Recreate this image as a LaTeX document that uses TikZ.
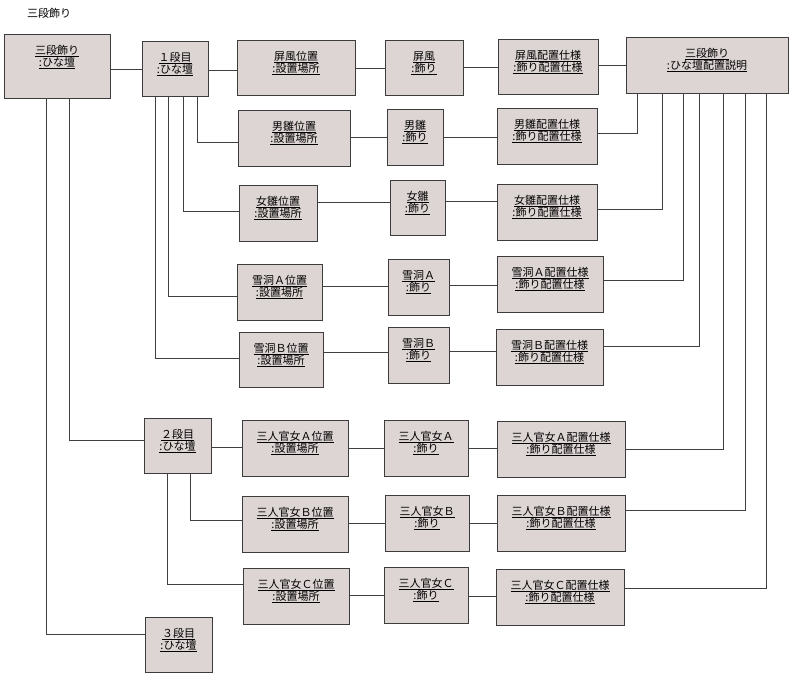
\documentclass[tikz,border=0pt]{standalone}
\usepackage{fontspec}
\setmainfont{Noto Sans CJK JP}
\usetikzlibrary{fit}
\definecolor{boxfill}{HTML}{DDD5D3}
\definecolor{boxline}{HTML}{3C3C3C}
\definecolor{connline}{HTML}{404040}
\tikzset{
  box/.style={draw=boxline, fill=boxfill, line width=0.9pt, inner sep=0pt, outer sep=0pt},
  lbl/.style={anchor=base, inner sep=0pt, font=\fontsize{11}{12}\selectfont, text=black},
  conn/.style={draw=connline, line width=0.8pt},
}
\newcommand\objbox[7]{%
  \node[box, fit={(#2,#3) (#4,#5)}] (#1) {};
  \node[lbl] (#1-a) at ([yshift=-20pt]#1.north) {\underline{#6}};
  \node[lbl] (#1-b) at ([yshift=-32pt]#1.north) {\underline{#7}};
}
\begin{document}
\begin{tikzpicture}[x=1pt,y=-1pt]
\fill[white] (0,0) rectangle (796,675);
\useasboundingbox (0,0) rectangle (796,675);
\node[anchor=west, inner sep=0pt, font=\fontsize{11}{12}\selectfont] (title) at (27,13) {三段飾り};

\objbox{A}{4}{34}{110}{98}{三段飾り}{:ひな壇}
\objbox{s1}{142}{41}{208}{96}{１段目}{:ひな壇}
\objbox{byobuP}{237}{40}{355}{95}{屏風位置}{:設置場所}
\objbox{byobu}{385}{40}{463}{95}{屏風}{:飾り}
\objbox{byobuS}{498}{39}{598}{94}{屏風配置仕様}{:飾り配置仕様}
\objbox{desc}{626}{37}{788}{93}{三段飾り}{:ひな壇配置説明}
\objbox{obinaP}{238}{110}{350}{166}{男雛位置}{:設置場所}
\objbox{obina}{387}{109}{443}{165}{男雛}{:飾り}
\objbox{obinaS}{497}{108}{597}{164}{男雛配置仕様}{:飾り配置仕様}
\objbox{mebinaP}{239}{185}{317}{241}{女雛位置}{:設置場所}
\objbox{mebina}{390}{180}{445}{235}{女雛}{:飾り}
\objbox{mebinaS}{497}{184}{597}{240}{女雛配置仕様}{:飾り配置仕様}
\objbox{bonAP}{237}{264}{322}{320}{雪洞Ａ位置}{:設置場所}
\objbox{bonA}{388}{259}{449}{315}{雪洞Ａ}{:飾り}
\objbox{bonAS}{497}{256}{603}{312}{雪洞Ａ配置仕様}{:飾り配置仕様}
\objbox{bonBP}{239}{332}{323}{387}{雪洞Ｂ位置}{:設置場所}
\objbox{bonB}{388}{327}{449}{383}{雪洞Ｂ}{:飾り}
\objbox{bonBS}{496}{329}{603}{385}{雪洞Ｂ配置仕様}{:飾り配置仕様}
\objbox{s2}{144}{418}{211}{473}{２段目}{:ひな壇}
\objbox{kAP}{242}{420}{348}{476}{三人官女Ａ位置}{:設置場所}
\objbox{kA}{384}{420}{468}{476}{三人官女Ａ}{:飾り}
\objbox{kAS}{497}{421}{625}{477}{三人官女Ａ配置仕様}{:飾り配置仕様}
\objbox{kBP}{242}{496}{348}{552}{三人官女Ｂ位置}{:設置場所}
\objbox{kB}{385}{495}{469}{551}{三人官女Ｂ}{:飾り}
\objbox{kBS}{497}{495}{625}{551}{三人官女Ｂ配置仕様}{:飾り配置仕様}
\objbox{kCP}{243}{568}{349}{624}{三人官女Ｃ位置}{:設置場所}
\objbox{kC}{384}{567}{468}{623}{三人官女Ｃ}{:飾り}
\objbox{kCS}{496}{569}{624}{625}{三人官女Ｃ配置仕様}{:飾り配置仕様}
\objbox{s3}{145}{617}{212}{672}{３段目}{:ひな壇}

% horizontal links
\draw[conn] (A.east |- 0,69) -- (s1.west |- 0,69);
\draw[conn] (s1.east |- 0,70) -- (byobuP.west |- 0,70);
\draw[conn] (byobuP.east |- 0,68) -- (byobu.west |- 0,68);
\draw[conn] (byobu.east |- 0,67) -- (byobuS.west |- 0,67);
\draw[conn] (byobuS.east |- 0,65) -- (desc.west |- 0,65);
\draw[conn] (obinaP.east |- 0,137) -- (obina.west |- 0,137);
\draw[conn] (obina.east |- 0,137) -- (obinaS.west |- 0,137);
\draw[conn] (mebinaP.east |- 0,202) -- (mebina.west |- 0,202);
\draw[conn] (mebina.east |- 0,201) -- (mebinaS.west |- 0,201);
\draw[conn] (bonAP.east |- 0,286) -- (bonA.west |- 0,286);
\draw[conn] (bonA.east |- 0,285) -- (bonAS.west |- 0,285);
\draw[conn] (bonBP.east |- 0,352) -- (bonB.west |- 0,352);
\draw[conn] (bonB.east |- 0,351) -- (bonBS.west |- 0,351);
\draw[conn] (s2.east |- 0,447) -- (kAP.west |- 0,447);
\draw[conn] (kAP.east |- 0,448) -- (kA.west |- 0,448);
\draw[conn] (kA.east |- 0,448) -- (kAS.west |- 0,448);
\draw[conn] (kBP.east |- 0,523) -- (kB.west |- 0,523);
\draw[conn] (kB.east |- 0,523) -- (kBS.west |- 0,523);
\draw[conn] (kCP.east |- 0,595) -- (kC.west |- 0,595);
\draw[conn] (kC.east |- 0,596) -- (kCS.west |- 0,596);

% elbow links, left side
\draw[conn] (s1.south -| 197,0) |- (obinaP.west |- 0,142);
\draw[conn] (s1.south -| 183,0) |- (mebinaP.west |- 0,211);
\draw[conn] (s1.south -| 168,0) |- (bonAP.west |- 0,296);
\draw[conn] (s1.south -| 155,0) |- (bonBP.west |- 0,358);
\draw[conn] (A.south -| 69,0) |- (s2.west |- 0,440);
\draw[conn] (A.south -| 46,0) |- (s3.west |- 0,634);
\draw[conn] (s2.south -| 190,0) |- (kBP.west |- 0,520);
\draw[conn] (s2.south -| 167,0) |- (kCP.west |- 0,584);

% elbow links, right side
\draw[conn] (obinaS.east |- 0,133) -| (desc.south -| 637,0);
\draw[conn] (mebinaS.east |- 0,209) -| (desc.south -| 662,0);
\draw[conn] (bonAS.east |- 0,280) -| (desc.south -| 683,0);
\draw[conn] (bonBS.east |- 0,346) -| (desc.south -| 699,0);
\draw[conn] (kAS.east |- 0,449) -| (desc.south -| 723,0);
\draw[conn] (kBS.east |- 0,510) -| (desc.south -| 745,0);
\draw[conn] (kCS.east |- 0,588) -| (desc.south -| 766,0);
\end{tikzpicture}
\end{document}
